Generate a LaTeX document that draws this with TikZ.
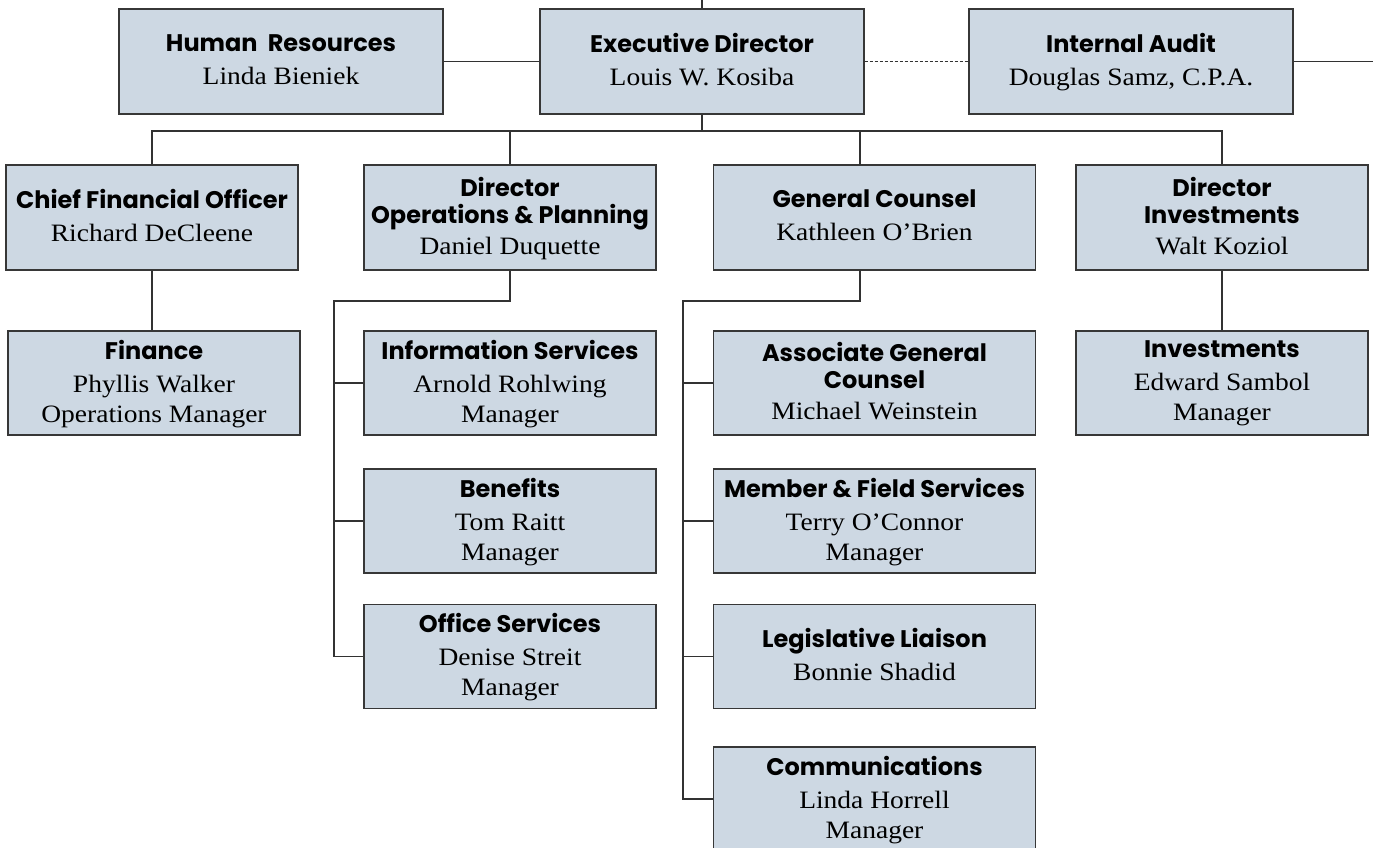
\documentclass[tikz,border=0pt]{standalone}
\usepackage{fontspec}
\setmainfont[FakeStretch=1.1]{Liberation Serif}
\newfontfamily\headfont{Poppins}[UprightFont=* Bold]
\usetikzlibrary{positioning}
\definecolor{boxfill}{RGB}{205,216,227}
\definecolor{boxline}{RGB}{55,55,55}
\definecolor{wire}{RGB}{50,50,50}
\newcommand{\hd}{\headfont\fontsize{24}{27}\selectfont}

\begin{document}
\begin{tikzpicture}[x=1pt,y=-1pt,
    unit/.style = {draw=boxline, line width=1.4pt, fill=boxfill, align=center, inner sep=0pt,
                   minimum height=104pt, text depth=4pt, font=\fontsize{25}{30}\selectfont},
    wide/.style = {unit, minimum width=322pt},
    narrow/.style = {unit, minimum width=292pt},
    link/.style = {draw=wire, line width=1.2pt}]
    \clip (0,0) rectangle (1373,848);
    \fill[white] (0,0) rectangle (1373,848);
    % top row
    \node[wide, minimum width=324pt, minimum height=105pt] (hr) at (281,61.5) {{\hd Human~ Resources}\\[3pt] Linda Bieniek};
    \node[wide, minimum width=324pt, minimum height=105pt] (ed) at (702,61.5) {{\hd Executive Director}\\[3pt] Louis W. Kosiba};
    \node[wide, minimum width=324pt, minimum height=105pt] (audit) at (1131,61.5) {{\hd Internal Audit}\\[3pt] Douglas Samz, C.P.A.};
    % second row
    \node[narrow, minimum height=105pt] (cfo) at (152,217.5) {{\hd Chief Financial Officer}\\[3pt] Richard DeCleene};
    \node[narrow, minimum height=105pt] (ops) at (510,217.5) {{\hd Director}\\[-3pt]{\hd Operations \& Planning}\\[1pt] Daniel Duquette};
    \node[wide, minimum height=105pt] (gc) at (874.5,217.5) {{\hd General Counsel}\\[3pt] Kathleen O’Brien};
    \node[narrow, minimum height=105pt] (inv) at (1222,217.5) {{\hd Director}\\[-3pt]{\hd Investments}\\[1pt] Walt Koziol};
    % units below
    \node[narrow] (fin) at (154,383) {{\hd Finance}\\[3pt] Phyllis Walker\\ Operations Manager};
    \node[narrow] (info) at (510,383) {{\hd Information Services}\\[3pt] Arnold Rohlwing\\ Manager};
    \node[narrow] (ben) at (510,521) {{\hd Benefits}\\[3pt] Tom Raitt\\ Manager};
    \node[narrow] (office) at (510,656.5) {{\hd Office Services}\\[3pt] Denise Streit\\ Manager};
    \node[wide] (agc) at (874.5,383) {{\hd Associate General}\\[-3pt]{\hd Counsel}\\[1pt] Michael Weinstein};
    \node[wide] (mfs) at (874.5,521) {{\hd Member \& Field Services}\\[3pt] Terry O’Connor\\ Manager};
    \node[wide] (leg) at (874.5,656.5) {{\hd Legislative Liaison}\\[3pt] Bonnie Shadid};
    \node[wide] (comm) at (874.5,799) {{\hd Communications}\\[3pt] Linda Horrell\\ Manager};
    \node[narrow] (invm) at (1222,383) {{\hd Investments}\\[3pt] Edward Sambol\\ Manager};

    \coordinate (board) at (702,0);
    \coordinate (edge) at (1373,61.5);
    \coordinate (bus) at (702,131);
    \coordinate (gctop) at (860,165);
    \coordinate (gcbot) at (860,270);
    \coordinate (opsbus) at (334,301);
    \coordinate (gcbus) at (683,301);

    \path[link] (board) -- (ed.north);
    \path[link] (hr.east) -- (ed.west);
    \path[link, dashed, dash pattern=on 3pt off 2pt] (ed.east) -- (audit.west);
    \path[link] (audit.east) -- (edge);
    % reporting lines
    \path[link] (ed.south) -- (bus);
    \path[link] (cfo.north) |- (bus) -| (inv.north);
    \path[link] (ops.north) -- (ops.north |- bus);
    \path[link] (gctop) -- (gctop |- bus);
    \path[link] (cfo.south) -- (cfo.south |- fin.north);
    \path[link] (inv.south) -- (invm.north);
    % operations
    \path[link] (ops.south) |- (opsbus) |- (office.west);
    \path[link] (info.west) -- (info.west -| opsbus);
    \path[link] (ben.west) -- (ben.west -| opsbus);
    % counsel
    \path[link] (gcbot) |- (gcbus) |- (comm.west);
    \path[link] (agc.west) -- (agc.west -| gcbus);
    \path[link] (mfs.west) -- (mfs.west -| gcbus);
    \path[link] (leg.west) -- (leg.west -| gcbus);
\end{tikzpicture}
\end{document}
